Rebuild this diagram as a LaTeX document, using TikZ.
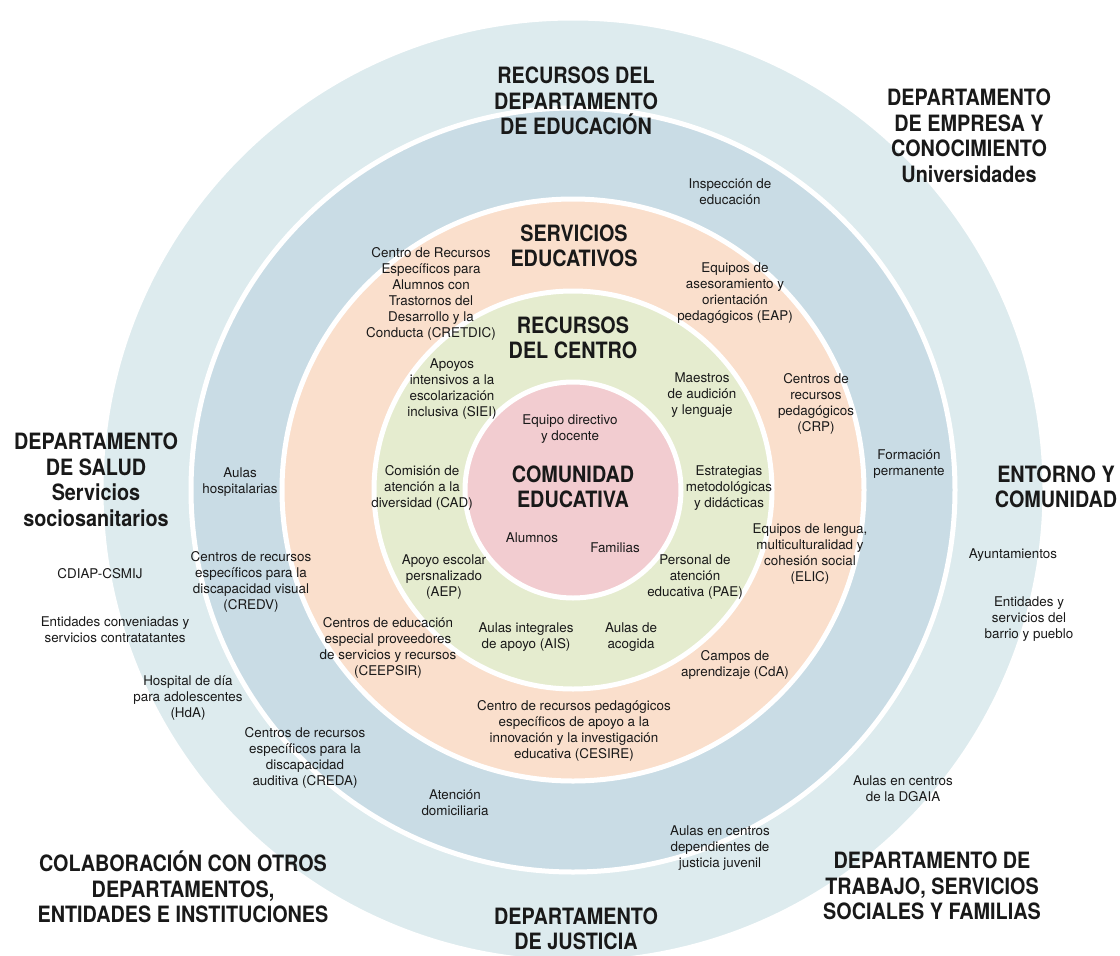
\documentclass[tikz,border=0pt]{standalone}
\usepackage{fontspec}
\setmainfont{TeX Gyre Heros}
\newfontfamily\titlefont[FakeStretch=0.88]{TeX Gyre Heros}
\definecolor{anillo}{HTML}{DDEBEE}
\definecolor{depto}{HTML}{C9DCE5}
\definecolor{serv}{HTML}{FADFCC}
\definecolor{centro}{HTML}{E5ECCF}
\definecolor{comun}{HTML}{F2CCD0}
\begin{document}
\begin{tikzpicture}[x=1pt, y=-1pt,
    lbl/.style={align=center, inner sep=0pt, text=black!90, font=\fontsize{13.4}{16}\selectfont},
    hdr/.style={align=center, inner sep=0pt, text=black!90, font=\titlefont\bfseries\fontsize{22.5}{25.5}\selectfont}]
    \useasboundingbox (0,0) rectangle (1120,956);
    \coordinate (o) at (573,490);

    % Rings, outside in
    \foreach \r/\c in {472/anillo, 382/depto, 291/serv, 199/centro, 108/comun}
        \filldraw[fill=\c, draw=white, line width=5pt] (o) circle[radius=\r pt];

    % Titles
    \node[hdr] (recdep) at (576,101) {RECURSOS DEL\\DEPARTAMENTO\\DE EDUCACIÓN};
    \node[hdr] (empresa) at (969,136) {DEPARTAMENTO\\DE EMPRESA Y\\CONOCIMIENTO\\Universidades};
    \node[hdr] (servicios) at (574,246) {SERVICIOS\\EDUCATIVOS};
    \node[hdr] (reccentro) at (573,338) {RECURSOS\\DEL CENTRO};
    \node[hdr] (comunidad) at (573,487) {COMUNIDAD\\EDUCATIVA};
    \node[hdr] (salud) at (96,480) {DEPARTAMENTO\\DE SALUD\\Servicios\\sociosanitarios};
    \node[hdr] (entorno) at (1056,487) {ENTORNO Y\\COMUNIDAD};
    \node[hdr] (colab) at (183,887) {COLABORACIÓN CON OTROS\\DEPARTAMENTOS,\\ENTIDADES E INSTITUCIONES};
    \node[hdr] (trabajo) at (932,886) {DEPARTAMENTO DE\\TRABAJO, SERVICIOS\\SOCIALES Y FAMILIAS};
    \node[hdr] (justicia) at (576,929) {DEPARTAMENTO\\DE JUSTICIA};

    % Comunidad educativa
    \node[lbl] (directivo) at (570,429) {Equipo directivo\\y docente};
    \node[lbl] (alumnos) at (532,538) {Alumnos};
    \node[lbl] (familias) at (615,548) {Familias};

    % Recursos del centro
    \node[lbl] (siei) at (452,389) {Apoyos\\intensivos a la\\escolarización\\inclusiva (SIEI)};
    \node[lbl] (maestros) at (702,395) {Maestros\\de audición\\y lenguaje};
    \node[lbl] (cad) at (422,488) {Comisión de\\atención a la\\diversidad (CAD)};
    \node[lbl] (estrategias) at (729,488) {Estrategias\\metodológicas\\y didácticas};
    \node[lbl] (aep) at (444,577) {Apoyo escolar\\persnalizado\\(AEP)};
    \node[lbl] (pae) at (695,577) {Personal de\\atención\\educativa (PAE)};
    \node[lbl] (ais) at (526,637) {Aulas integrales\\de apoyo (AIS)};
    \node[lbl] (acogida) at (631,637) {Aulas de\\acogida};

    % Servicios educativos
    \node[lbl] (cretdic) at (431,294) {Centro de Recursos\\Específicos para\\Alumnos con\\Trastornos del\\Desarrollo y la\\Conducta (CRETDIC)};
    \node[lbl] (eap) at (735,293) {Equipos de\\asesoramiento y\\orientación\\pedagógicos (EAP)};
    \node[lbl] (crp) at (816,404) {Centros de\\recursos\\pedagógicos\\(CRP)};
    \node[lbl] (elic) at (810,554) {Equipos de lengua,\\multiculturalidad y\\cohesión social\\(ELIC)};
    \node[lbl] (ceepsir) at (388,648) {Centros de educación\\especial proveedores\\de servicios y recursos\\(CEEPSIR)};
    \node[lbl] (cda) at (735,665) {Campos de\\aprendizaje (CdA)};
    \node[lbl] (cesire) at (574,731) {Centro de recursos pedagógicos\\específicos de apoyo a la\\innovación y la investigación\\educativa (CESIRE)};

    % Recursos del departamento
    \node[lbl] (inspeccion) at (730,192) {Inspección de\\educación};
    \node[lbl] (formacion) at (909,464) {Formación\\permanente};
    \node[lbl] (hospitalarias) at (240,482) {Aulas\\hospitalarias};
    \node[lbl] (credv) at (251,582) {Centros de recursos\\específicos para la\\discapacidad visual\\(CREDV)};
    \node[lbl] (creda) at (305,758) {Centros de recursos\\específicos para la\\discapacidad\\auditiva (CREDA)};
    \node[lbl] (domicilio) at (455,803) {Atención\\domiciliaria};
    \node[lbl] (juvenil) at (720,848) {Aulas en centros\\dependientes de\\justicia juvenil};

    % Colaboración
    \node[lbl] (cdiap) at (100,574) {CDIAP-CSMIJ};
    \node[lbl] (conveniadas) at (115,630) {Entidades conveniadas y\\servicios contratatantes};
    \node[lbl] (hda) at (188,698) {Hospital de día\\para adolescentes\\(HdA)};
    \node[lbl] (ayunt) at (1013,555) {Ayuntamientos};
    \node[lbl] (barrio) at (1029,619) {Entidades y\\servicios del\\barrio y pueblo};
    \node[lbl] (dgaia) at (903,789) {Aulas en centros\\de la DGAIA};
\end{tikzpicture}
\end{document}
